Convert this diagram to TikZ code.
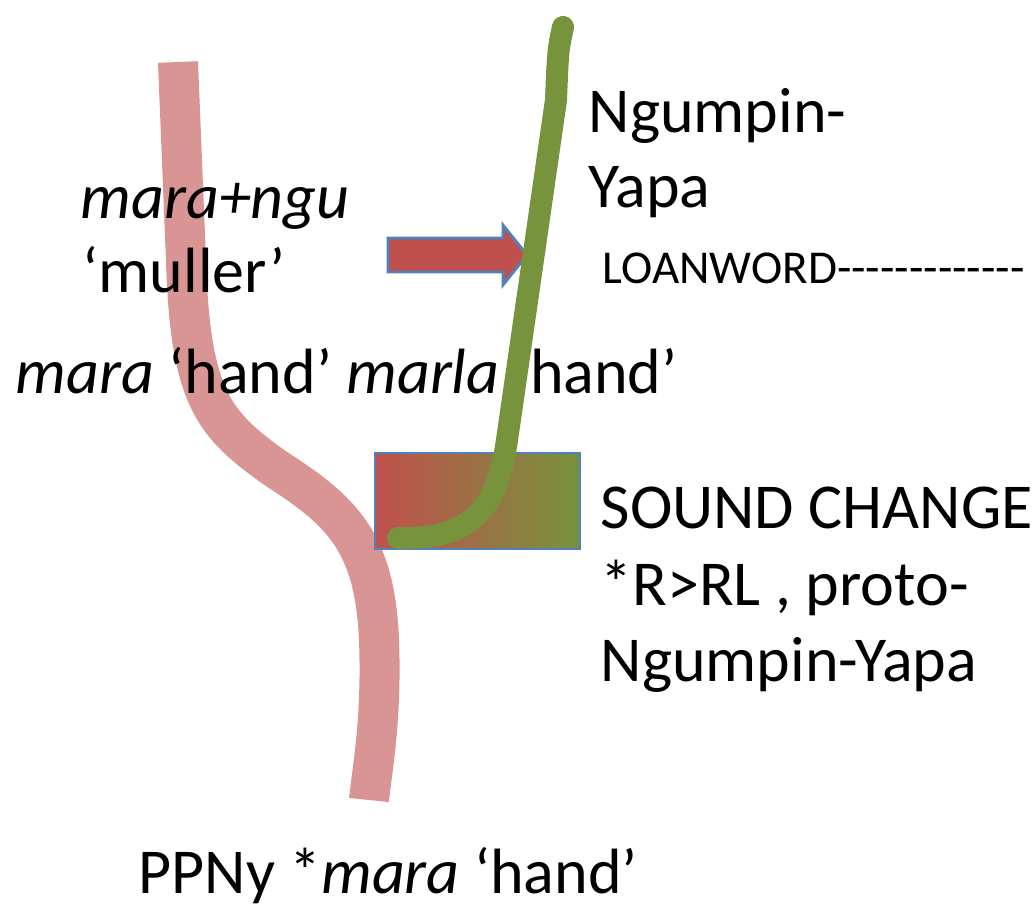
\documentclass[tikz,border=0pt]{standalone}
\usepackage{fontspec}
\setmainfont{Carlito}
\definecolor{pinkline}{HTML}{D99594}
\definecolor{olive}{HTML}{77933C}
\definecolor{brick}{HTML}{C0504D}
\definecolor{edgeblue}{HTML}{4F81BD}
\begin{document}
\begin{tikzpicture}[x=0.01cm,y=-0.01cm,
  lbl/.style={anchor=base west,inner sep=0pt,font=\fontsize{18.2}{22}\selectfont},
  small/.style={anchor=base west,inner sep=0pt,font=\fontsize{13.4}{16}\selectfont}]
\useasboundingbox (0,0) rectangle (1033,909);
% pink lineage
\draw[pinkline,line width=0.4cm]
  (178,62) -- (186,260) .. controls (190,400) and (215,425) .. (275,468)
  .. controls (340,510) and (375,540) .. (379,640)
  .. controls (382,720) and (372,770) .. (369,800);
% texts
\node[lbl] (mn) at (80,218) {\textit{mara+ngu}};
\node[lbl] (mu) at (82,292) {‘muller’};
\node[lbl] (mh) at (15,393) {\textit{mara} ‘hand’ \textit{marla} ‘hand’};
\node[lbl] (ng1) at (588,132) {Ngumpin-};
\node[lbl] (ng2) at (588,207) {Yapa};
\node[small] (lw) at (602,283) {LOANWORD-{}-{}-{}-{}-{}-{}-{}-{}-{}-{}-{}-{}-{}};
\node[lbl] (sc1) at (600,528) {SOUND CHANGE};
\node[lbl] (sc2) at (600,605) {*R>RL , proto-};
\node[lbl] (sc3) at (600,681) {Ngumpin-Yapa};
\node[lbl] (pp) at (138,893) {PPNy *\textit{mara} ‘hand’};
% sound change box
\shade[left color=brick,right color=olive] (375,453) rectangle (580,549);
\draw[edgeblue,line width=0.8pt] (375,453) rectangle (580,549);
% loan arrow
\draw[edgeblue,line width=0.8pt,fill=brick]
  (388,238) -- (503,238) -- (503,225) -- (527,255) -- (503,285) -- (503,272) -- (388,272) -- cycle;
% green lineage
\draw[olive,line width=0.22cm,line cap=round]
  (563,27) .. controls (558,50) .. (556,100) -- (507,440)
  .. controls (497,510) and (470,540) .. (398,538);
\end{tikzpicture}
\end{document}
